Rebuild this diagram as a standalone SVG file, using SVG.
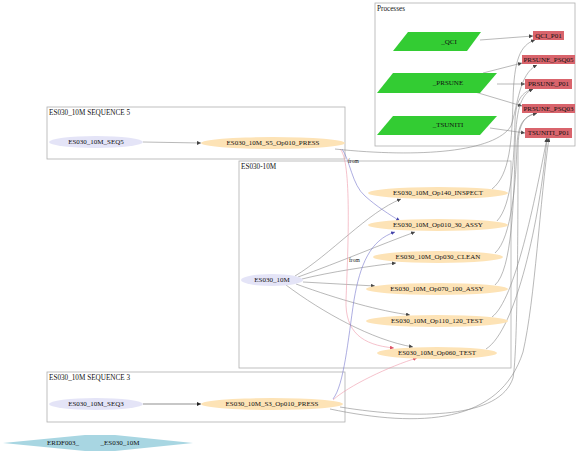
<svg xmlns="http://www.w3.org/2000/svg" width="581" height="457" viewBox="0 0 581 457">
<defs>
<style>
text{font-family:"Liberation Serif","Times New Roman",serif;fill:#111;}
.lbl{font-size:7px;text-anchor:middle;dominant-baseline:central;}
.cl{font-size:7.2px;}
.cluster{fill:none;stroke:#b0b0b0;stroke-width:0.8;}
.op{fill:#fde3b6;}
.seq{fill:#e4e4f7;}
.proc{fill:#33cc33;}
.res{fill:#d9646c;}
.e{fill:none;stroke:#8a8a8a;stroke-width:0.6;marker-end:url(#ah);}
.ed{fill:none;stroke:#444;stroke-width:0.6;marker-end:url(#ahd);}
.ep{fill:none;stroke:#ee99aa;stroke-width:0.6;marker-end:url(#ahp);}
.eb{fill:none;stroke:#7777cc;stroke-width:0.6;marker-end:url(#ahb);}
.fr{font-size:5.5px;}
</style>
<marker id="ah" viewBox="0 0 10 10" refX="10" refY="5" markerWidth="4" markerHeight="4" orient="auto" markerUnits="userSpaceOnUse"><path d="M0,0 L10,5 L0,10 z" fill="#444"/></marker>
<marker id="ahd" viewBox="0 0 10 10" refX="10" refY="5" markerWidth="4" markerHeight="4" orient="auto" markerUnits="userSpaceOnUse"><path d="M0,0 L10,5 L0,10 z" fill="#222"/></marker>
<marker id="ahp" viewBox="0 0 10 10" refX="10" refY="5" markerWidth="4" markerHeight="4" orient="auto" markerUnits="userSpaceOnUse"><path d="M0,0 L10,5 L0,10 z" fill="#dd5566"/></marker>
<marker id="ahb" viewBox="0 0 10 10" refX="10" refY="5" markerWidth="4" markerHeight="4" orient="auto" markerUnits="userSpaceOnUse"><path d="M0,0 L10,5 L0,10 z" fill="#4444aa"/></marker>
</defs>
<rect width="581" height="457" fill="#fff"/>

<g id="clusters">
<g id="cluster_processes"><rect class="cluster" x="375" y="3" width="200" height="143"/><text class="cl" x="377" y="11">Processes</text></g>
<g id="cluster_seq5"><rect class="cluster" x="47" y="107" width="298" height="52"/><text class="cl" x="49" y="115">ES030_10M SEQUENCE 5</text></g>
<g id="cluster_es030"><rect class="cluster" x="239" y="161" width="272" height="207"/><text class="cl" x="241" y="169">ES030-10M</text></g>
<g id="cluster_seq3"><rect class="cluster" x="47" y="372" width="298" height="50"/><text class="cl" x="49" y="380">ES030_10M SEQUENCE 3</text></g>
</g>

<g id="connectors">
<path class="e" d="M143,142 L201,143"/>
<path class="ed" d="M143,404 L201,404"/>
<path class="e" d="M480,40 L533,36"/>
<path class="e" d="M483,73 L522,63"/>
<path class="e" d="M497,84 L525,84"/>
<path class="e" d="M475,92 L522,106"/>
<path class="e" d="M490,128 L525,133"/>
<path class="e" d="M295,276 C330,255 368,212 401,199"/>
<path class="e" d="M298,277 C340,262 382,244 415,232"/>
<path class="e" d="M302,279 C330,272 370,266 396,263"/>
<path class="e" d="M303,282 L375,286"/>
<path class="e" d="M296,284 C340,300 380,311 410,315"/>
<path class="e" d="M286,285 C322,312 372,340 413,347"/>
<path class="ep" d="M340,149 C352,160 348,250 346,300 C345,332 362,345 394,348"/>
<path class="eb" d="M342,149 C350,160 352,185 365,196 C376,206 390,215 400,221"/>
<path class="eb" d="M333,399 C344,385 348,340 354,300 C360,265 370,240 395,232"/>
<path class="ep" d="M333,400 C348,386 390,366 417,358"/>
<path class="e" d="M335,149 C420,158 495,152 511,126 C518,105 519,74 537,65"/>
<path class="e" d="M492,189 C510,175 512,140 513,100 C514,60 520,45 535,40"/>
<path class="e" d="M497,221 C512,205 514,160 515,120 C516,100 522,92 533,89"/>
<path class="e" d="M495,253 C512,238 516,180 517,145 C518,122 525,116 537,113"/>
<path class="e" d="M495,285 C512,270 514,200 515,150 C516,110 520,95 533,89"/>
<path class="e" d="M492,317 C515,300 535,200 547,138"/>
<path class="e" d="M486,349 C516,330 540,220 547,138"/>
<path class="e" d="M340,407 C420,420 500,418 513,378 C518,350 518,200 518,150 C518,122 525,116 537,113"/>
<path class="e" d="M330,409 C420,428 500,424 523,352 C535,300 540,200 549,138"/>
<text class="fr" x="348" y="163">from</text>
<text class="fr" x="349" y="262">from</text>
</g>

<g id="n_QCI"><polygon class="proc" points="408,32 481,32 467,51 393,51"/><text class="lbl" x="449" y="42">_QCI</text></g>
<g id="n_PRSUNE"><polygon class="proc" points="393,73 497,73 480,93 377,93"/><text class="lbl" x="448" y="83">_PRSUNE</text></g>
<g id="n_TSUNITI"><polygon class="proc" points="393,116 497,116 480,135 377,135"/><text class="lbl" x="448" y="125">_TSUNITI</text></g>

<g id="n_QCI_P01"><rect class="res" x="533" y="31" width="31" height="9"/><text class="lbl" x="548.5" y="35.5">QCI_P01</text></g>
<g id="n_PRSUNE_PSQ05"><rect class="res" x="522" y="55" width="53" height="9"/><text class="lbl" x="548.5" y="59.5">PRSUNE_PSQ05</text></g>
<g id="n_PRSUNE_P01"><rect class="res" x="525" y="79" width="47" height="10"/><text class="lbl" x="548.5" y="84">PRSUNE_P01</text></g>
<g id="n_PRSUNE_PSQ03"><rect class="res" x="522" y="104" width="53" height="9"/><text class="lbl" x="548.5" y="108.5">PRSUNE_PSQ03</text></g>
<g id="n_TSUNITI_P01"><rect class="res" x="525" y="128" width="47" height="10"/><text class="lbl" x="548.5" y="133">TSUNITI_P01</text></g>

<g id="n_SEQ5"><ellipse class="seq" cx="96" cy="142" rx="47" ry="6"/><text class="lbl" x="96" y="142">ES030_10M_SEQ5</text></g>
<g id="n_S5_PRESS"><ellipse class="op" cx="273" cy="143" rx="72" ry="6"/><text class="lbl" x="273" y="143">ES030_10M_S5_Op010_PRESS</text></g>
<g id="n_Op140"><ellipse class="op" cx="438" cy="193" rx="70" ry="6"/><text class="lbl" x="438" y="193">ES030_10M_Op140_INSPECT</text></g>
<g id="n_Op010"><ellipse class="op" cx="438" cy="225" rx="70" ry="6"/><text class="lbl" x="438" y="225">ES030_10M_Op010_30_ASSY</text></g>
<g id="n_Op030"><ellipse class="op" cx="438" cy="257" rx="65" ry="6"/><text class="lbl" x="438" y="257">ES030_10M_Op030_CLEAN</text></g>
<g id="n_ES030_10M"><ellipse class="seq" cx="272" cy="280" rx="31" ry="6"/><text class="lbl" x="272" y="280">ES030_10M</text></g>
<g id="n_Op070"><ellipse class="op" cx="437" cy="289" rx="71" ry="6"/><text class="lbl" x="437" y="289">ES030_10M_Op070_100_ASSY</text></g>
<g id="n_Op110"><ellipse class="op" cx="437" cy="321" rx="71" ry="6"/><text class="lbl" x="437" y="321">ES030_10M_Op110_120_TEST</text></g>
<g id="n_Op060"><ellipse class="op" cx="437" cy="353" rx="60" ry="6"/><text class="lbl" x="437" y="353">ES030_10M_Op060_TEST</text></g>
<g id="n_SEQ3"><ellipse class="seq" cx="96" cy="404" rx="47" ry="6"/><text class="lbl" x="96" y="404">ES030_10M_SEQ3</text></g>
<g id="n_S3_PRESS"><ellipse class="op" cx="272" cy="404" rx="71" ry="6"/><text class="lbl" x="272" y="404">ES030_10M_S3_Op010_PRESS</text></g>

<g id="n_ERDF003"><polygon points="3,443 85,435 115,435 193,443 115,451 85,451" fill="#a8d6e2"/><text class="lbl" x="63" y="443">ERDF003_</text><text class="lbl" x="120" y="443">_ES030_10M</text></g>
</svg>
